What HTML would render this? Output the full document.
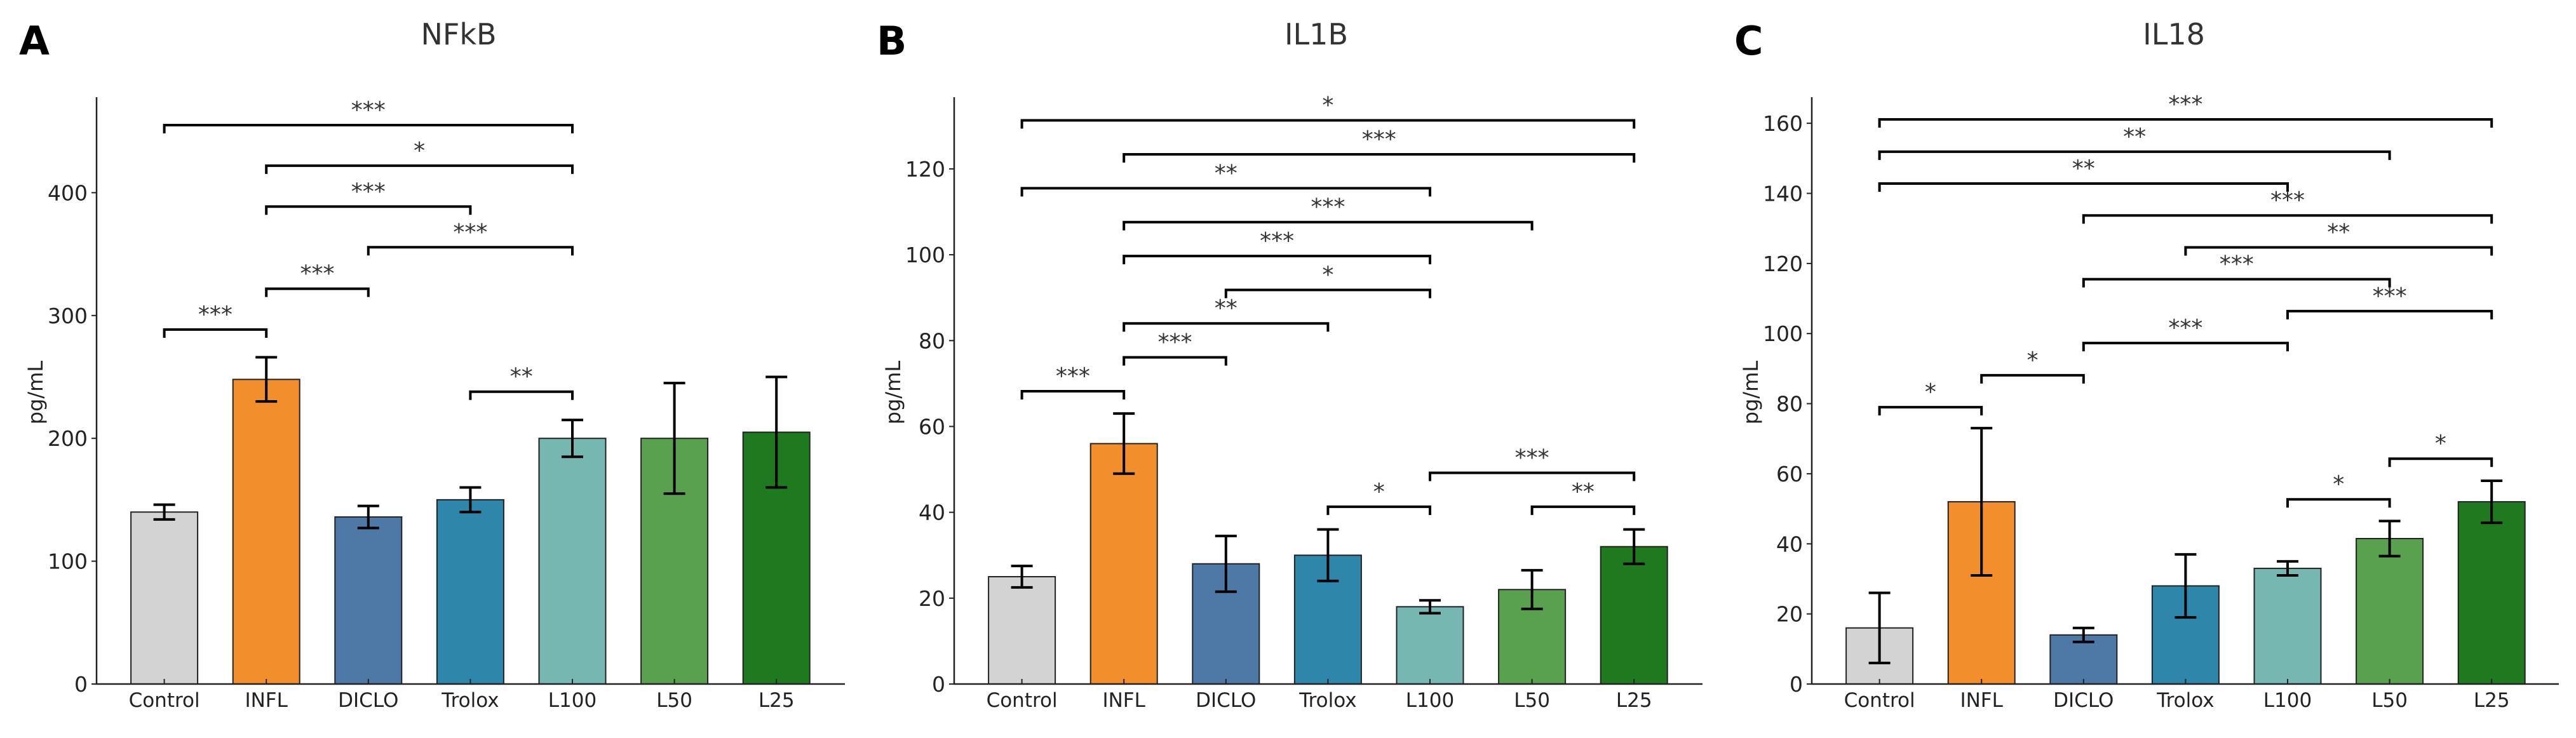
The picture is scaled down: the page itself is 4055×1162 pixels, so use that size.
<!DOCTYPE html>
<html><head><meta charset="utf-8"><style>
html,body{margin:0;padding:0;background:#fff}
svg{display:block}
text{font-family:"DejaVu Sans","Liberation Sans",sans-serif}
</style></head><body>
<svg id="fig" width="4055" height="1162" viewBox="0 0 4055 1162" xmlns="http://www.w3.org/2000/svg"></svg>
<script>
const categories = ["Control","INFL","DICLO","Trolox","L100","L50","L25"];
const colors = ["#d3d3d3","#f28e2b","#4e79a7","#2e86ab","#76b7b2","#59a14f","#1f7a1f"];
const nfkbValues = [140,248,136,150,200,200,205];
const nfkbErr = [6,18,9,10,15,45,45];
const il1bValues = [25,56,28,30,18,22,32];
const il1bErr = [2.5,7,6.5,6,1.5,4.5,4];
const il18Values = [16,52,14,28,33,41.5,52];
const il18Err = [10,21,2,9,2,5,6];
const nfkbTicks = [0,100,200,300,400];
const il1bTicks = [0,20,40,60,80,100,120];
const il18Ticks = [0,20,40,60,80,100,120,140,160];
// brackets: [from, to, height, label]
const nfkbBrackets = [[0,4,455,"***"],[1,4,422,"*"],[1,3,388.7,"***"],[2,4,355.6,"***"],[1,2,321.8,"***"],[0,1,288.6,"***"],[3,4,238,"**"]];
const il1bBrackets = [[0,6,131.3,"*"],[1,6,123.4,"***"],[0,4,115.5,"**"],[1,5,107.6,"***"],[1,4,99.7,"***"],[2,4,91.8,"*"],[1,3,84,"**"],[1,2,76.1,"***"],[0,1,68.2,"***"],[4,6,49.2,"***"],[3,4,41.3,"*"],[5,6,41.3,"**"]];
const il18Brackets = [[0,6,161.1,"***"],[0,5,151.9,"**"],[0,4,142.8,"**"],[2,6,133.7,"***"],[3,6,124.6,"**"],[2,5,115.5,"***"],[4,6,106.4,"***"],[2,4,97.3,"***"],[1,2,88.1,"*"],[0,1,79,"*"],[5,6,64.3,"*"],[4,5,52.7,"*"]];

const NS="http://www.w3.org/2000/svg";
const svg=document.getElementById('fig');
function mk(tag,attrs,parent){const e=document.createElementNS(NS,tag);for(const k in attrs)e.setAttribute(k,attrs[k]);(parent||svg).appendChild(e);return e;}

function panel(cfg){
  const g=mk('g',{});
  
  
  const x0=cfg.ox+152, x1=cfg.ox+cfg.right, yb=1077, yt=153;
  const xs=i=>cfg.ox+258.6+i*160.6;
  const ys=v=>yb-v*cfg.k;
  const lbl=mk('text',{x:cfg.ox+30,y:86,'font-size':62,'font-weight':'bold',fill:'#000'},g);
  lbl.textContent=cfg.letter;
  
  
  const t=mk('text',{x:cfg.ox+722,y:70,'font-size':46,'text-anchor':'middle',fill:'#333'},g);
  t.textContent=cfg.title;
  
  
  const yl=mk('text',{x:0,y:0,'font-size':32,'text-anchor':'middle',fill:'#222',transform:`translate(${cfg.ox+67},618) rotate(-90)`},g);
  yl.textContent='pg/mL';
  
  
  cfg.values.forEach((v,i)=>{
    const r=mk('rect',{x:xs(i)-52.5,y:ys(v),width:105,height:yb-ys(v),fill:colors[i],stroke:'#222','stroke-width':2},g);
    
    
    const e=cfg.err[i], cx=xs(i);
    const eb=mk('path',{d:`M${cx},${ys(v-e)}V${ys(v+e)}M${cx-17},${ys(v-e)}H${cx+17}M${cx-17},${ys(v+e)}H${cx+17}`,stroke:'#000','stroke-width':4,fill:'none'},g);
    
    
    const tl=mk('text',{x:cx,y:yb+36,'font-size':31,'text-anchor':'middle',fill:'#222'},g);
    tl.textContent=categories[i];
    
    
    mk('line',{x1:cx,x2:cx,y1:yb,y2:yb-8,stroke:'#222','stroke-width':2},g);
  });
  cfg.ticks.forEach(v=>{
    const tt=mk('text',{x:x0-14,y:ys(v)+12,'font-size':33,'text-anchor':'end',fill:'#222'},g);
    tt.textContent=v;
    
    
    mk('line',{x1:x0,x2:x0-8,y1:ys(v),y2:ys(v),stroke:'#222','stroke-width':2},g);
  });
  const ax=mk('path',{d:`M${x0},${yt}V${yb}H${x1}`,stroke:'#222','stroke-width':2.5,fill:'none'},g);
  
  
  cfg.brackets.forEach(b=>{
    const y=ys(b[2]), a=xs(b[0]), c=xs(b[1]);
    const p=mk('path',{d:`M${a},${y+13}V${y}H${c}V${y+13}`,stroke:'#000','stroke-width':4,fill:'none'},g);
    
    
    const s=mk('text',{x:(a+c)/2,y:y-12,'font-size':36,'text-anchor':'middle',fill:'#333'},g);
    s.textContent=b[3];
    
    
  });
}
panel({id:'nfkb',letter:'A',title:'NFkB',ox:0,right:1330,k:1.934,values:nfkbValues,err:nfkbErr,ticks:nfkbTicks,brackets:nfkbBrackets});
panel({id:'il1b',letter:'B',title:'IL1B',ox:1350,right:1330,k:6.759,values:il1bValues,err:il1bErr,ticks:il1bTicks,brackets:il1bBrackets});
panel({id:'il18',letter:'C',title:'IL18',ox:2700,right:1328,k:5.518,values:il18Values,err:il18Err,ticks:il18Ticks,brackets:il18Brackets});
</script>
</body></html>
